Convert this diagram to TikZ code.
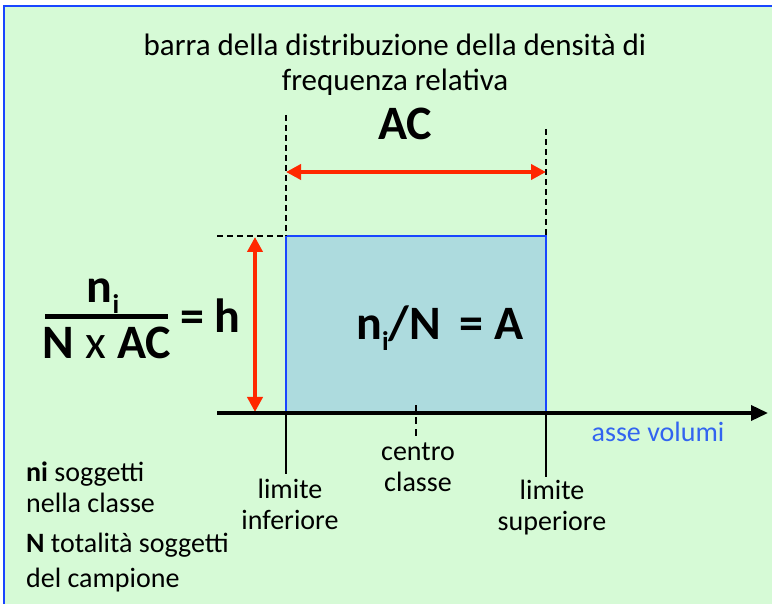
\documentclass[tikz,border=0pt]{standalone}
\usepackage{fontspec}
\setmainfont{Carlito}
\usetikzlibrary{arrows.meta,positioning}

\definecolor{bggreen}{RGB}{214,250,214}
\definecolor{frameblue}{RGB}{25,70,255}
\definecolor{barblue}{RGB}{173,219,222}
\definecolor{arrowred}{RGB}{255,40,0}
\definecolor{labelblue}{RGB}{50,100,240}

\newcommand{\subidx}[1]{\raisebox{-0.22em}{\fontsize{27}{27}\selectfont #1}}

\begin{document}
\begin{tikzpicture}[
  x=1pt, y=-1pt,
  >=Triangle,
  every node/.style={font=\fontsize{28}{31}\selectfont, inner sep=0pt},
  lbl/.style={align=center},
  note/.style={align=left, anchor=west},
  big/.style={font=\fontsize{48}{52}\selectfont\bfseries},
  redarr/.style={<->, draw=arrowred, line width=4pt, >={Triangle[length=15pt,width=15pt]}},
  guide/.style={dashed, line width=1.3pt, dash pattern=on 6pt off 4pt},
  tickline/.style={line width=1.2pt}
]
  \useasboundingbox (0,0) rectangle (772,604);
  \clip (0,0) rectangle (772,604);
  \fill[white] (0,0) rectangle (772,604);
  \draw[frameblue, fill=bggreen, line width=2.5pt] (4,6) rectangle (800,640);

  % titolo
  \node[lbl, font=\fontsize{31}{35}\selectfont] (title) at (395,65) {barra della distribuzione della densità di\\frequenza relativa};
  \node[big] (ac) at (405,124) {AC};

  % punti dell'asse
  \coordinate (ax0) at (217,413);
  \coordinate (ax1) at (768,413);
  \coordinate (inf) at (286,413);
  \coordinate (sup) at (546,413);
  \coordinate (ctr) at (416,413);

  % barra
  \node[draw=frameblue, fill=barblue, line width=1.6pt, outer sep=0pt, minimum width=260pt, minimum height=177pt, anchor=south west] (bar) at (inf) {};
  \node[big] (area) at (440,328) {n\subidx{i}/N\, = A};

  % linee guida
  \coordinate (ginf) at (286,115);
  \coordinate (gsup) at (546,129);
  \draw[guide] (ginf) -- (bar.north west);
  \draw[guide] (gsup) -- (bar.north east);
  \coordinate (gtop) at (217,236);
  \draw[guide] (gtop) -- (bar.north west);

  % frecce rosse
  \coordinate (acl) at (286,172);
  \coordinate (acr) at (546,172);
  \draw[redarr] (acl) -- (acr);
  \coordinate (hb) at (255,412);
  \coordinate (ht) at (255,237);
  \draw[redarr] (hb) -- (ht);

  % asse
  \draw[->, line width=3.5pt, >={Triangle[length=17pt,width=15pt]}] (ax0) -- (ax1);
  \node[text=labelblue] (vol) at (658,432) {asse volumi};

  % tacche
  \coordinate (tinf) at (286,474);
  \coordinate (tsup) at (546,477);
  \coordinate (tctr) at (416,438);
  \coordinate (tctr0) at (416,405);
  \draw[tickline] (inf) -- (tinf);
  \draw[tickline] (sup) -- (tsup);
  \draw[tickline, dashed, dash pattern=on 7pt off 5pt] (tctr0) -- (tctr);

  \node[lbl] (linf) at (290,504) {limite\\inferiore};
  \node[lbl] (lsup) at (552,508) {limite\\superiore};
  \node[lbl] (lctr) at (418,467) {centro\\classe};

  % formula
  \node[big, anchor=base] (num) at (103,303) {n\subidx{i}};
  \node[big] (den) at (107,343) {N {\mdseries x} AC};
  \coordinate (fb0) at (45,317);
  \coordinate (fb1) at (168,317);
  \draw[line width=5pt] (fb0) -- (fb1);
  \node[big, anchor=west] (eqh) at (180,316) {= h};

  % legenda
  \node[note] (ni) at (26,487) {\textbf{ni} soggetti\\nella classe};
  \node[note, font=\fontsize{28}{35}\selectfont] (ntot) at (26,563) {\textbf{N} totalità soggetti\\del campione};
\end{tikzpicture}
\end{document}
